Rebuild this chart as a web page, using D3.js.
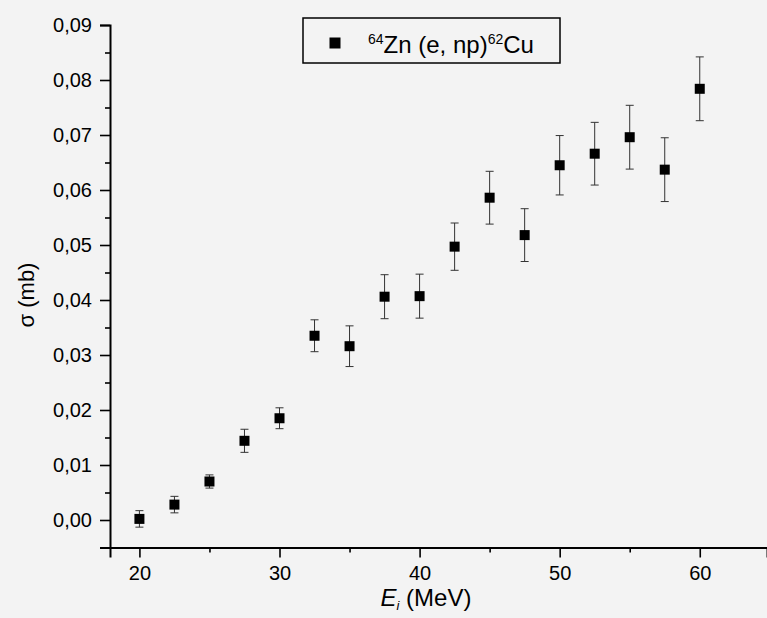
<!DOCTYPE html>
<html>
<head>
<meta charset="utf-8">
<script src="https://cdn.jsdelivr.net/npm/d3@7/dist/d3.min.js"></script>
<style>
  html, body { margin: 0; padding: 0; background: #f3f3f3; }
  svg { display: block; font-family: "Liberation Sans", Arial, Helvetica, sans-serif; }
</style>
</head>
<body>
<svg id="chart" width="767" height="618"></svg>
<script>
// ---- data ----
const energies = [20, 22.5, 25, 27.5, 30, 32.5, 35, 37.5, 40, 42.5, 45, 47.5, 50, 52.5, 55, 57.5, 60];
const sigma    = [0.0002, 0.0028, 0.0070, 0.0144, 0.0185, 0.0335, 0.0316, 0.0406, 0.0407,
                  0.0497, 0.0586, 0.0518, 0.0645, 0.0666, 0.0696, 0.0637, 0.0784];
const sigmaErr = [0.0015, 0.0015, 0.0012, 0.0021, 0.0019, 0.0029, 0.0037, 0.0040, 0.0040,
                  0.0043, 0.0048, 0.0048, 0.0054, 0.0057, 0.0058, 0.0058, 0.0058];
const xTicks = [20, 30, 40, 50, 60];
const xMinorTicks = [25, 35, 45, 55];
const yTicks = [0, 0.01, 0.02, 0.03, 0.04, 0.05, 0.06, 0.07, 0.08, 0.09];
const yMinorTicks = [0.005, 0.015, 0.025, 0.035, 0.045, 0.055, 0.065, 0.075, 0.085];
const seriesLabel = { pre: "64", a: "Zn (e, np)", mid: "62", b: "Cu" };

const svg = d3.select("#chart");

const x = d3.scaleLinear().domain([17.9, 64.8]).range([110, 767]);
const y = d3.scaleLinear().domain([-0.005, 0.09]).range([547.5, 25]);

const loc = d3.formatLocale({ decimal: ",", thousands: ".", grouping: [3], currency: ["", ""] });
const fmtY = loc.format(".2f");

// ---- axes ----
const gx = svg.append("g").attr("transform", `translate(0,${y(-0.005)})`);
gx.call(d3.axisBottom(x).tickValues(xTicks).tickSize(10).tickPadding(8).tickFormat(d3.format("d")));
const gxm = svg.append("g").attr("transform", `translate(0,${y(-0.005)})`);
gxm.call(d3.axisBottom(x).tickValues(xMinorTicks).tickSize(5).tickFormat(""));

const gy = svg.append("g").attr("transform", `translate(${x(17.9)},0)`);
gy.call(d3.axisLeft(y).tickValues(yTicks).tickSize(10).tickPadding(8).tickFormat(fmtY));
const gym = svg.append("g").attr("transform", `translate(${x(17.9)},0)`);
gym.call(d3.axisLeft(y).tickValues(yMinorTicks).tickSize(5).tickFormat(""));

[gx, gxm, gy, gym].forEach(g => {
  g.select(".domain").attr("stroke", "#000").attr("stroke-width", 2);
  g.selectAll(".tick line").attr("stroke", "#000").attr("stroke-width", 1.6);
  g.selectAll(".tick text").attr("fill", "#000").style("font-size", "20px")
    .style("font-family", "'Liberation Sans', Arial, sans-serif");
});
gxm.select(".domain").remove();
gym.select(".domain").remove();

// ---- error bars ----
const data = energies.map((e, i) => ({ e, s: sigma[i], err: sigmaErr[i] }));
const capW = 4;
const eb = svg.append("g").attr("stroke", "#333").attr("stroke-width", 1);
data.forEach(d => {
  const cx = x(d.e), y0 = y(d.s - d.err), y1 = y(d.s + d.err);
  eb.append("line").attr("x1", cx).attr("x2", cx).attr("y1", y0).attr("y2", y1);
  eb.append("line").attr("x1", cx - capW).attr("x2", cx + capW).attr("y1", y0).attr("y2", y0);
  eb.append("line").attr("x1", cx - capW).attr("x2", cx + capW).attr("y1", y1).attr("y2", y1);
});

// ---- markers ----
const ms = 10;
svg.append("g").selectAll("rect").data(data).join("rect")
  .attr("x", d => x(d.e) - ms / 2)
  .attr("y", d => y(d.s) - ms / 2)
  .attr("width", ms).attr("height", ms)
  .attr("fill", "#000");

// ---- axis titles ----
const xt = svg.append("text").attr("x", 426).attr("y", 606)
  .attr("text-anchor", "middle").style("font-size", "24px").attr("fill", "#000");
xt.append("tspan").style("font-style", "italic").text("E");
xt.append("tspan").attr("dy", 4).style("font-size", "13px").style("font-style", "italic").text("i");
xt.append("tspan").attr("dy", -4).text(" (MeV)");

svg.append("text").attr("transform", "translate(34,295) rotate(-90)")
  .attr("text-anchor", "middle").style("font-size", "22px").attr("fill", "#000")
  .text("σ (mb)");

// ---- legend ----
const lg = svg.append("g");
lg.append("rect").attr("x", 303).attr("y", 18).attr("width", 257).attr("height", 45)
  .attr("fill", "none").attr("stroke", "#000").attr("stroke-width", 1.5);
lg.append("rect").attr("x", 335 - 5.5).attr("y", 43 - 5.5).attr("width", 11).attr("height", 11).attr("fill", "#000");
const lt = lg.append("text").attr("x", 368).attr("y", 53).style("font-size", "24px").attr("fill", "#000");
lt.append("tspan").attr("dy", -9).style("font-size", "14px").text(seriesLabel.pre);
lt.append("tspan").attr("dy", 9).text(seriesLabel.a);
lt.append("tspan").attr("dy", -9).style("font-size", "14px").text(seriesLabel.mid);
lt.append("tspan").attr("dy", 9).text(seriesLabel.b);
</script>
</body>
</html>
